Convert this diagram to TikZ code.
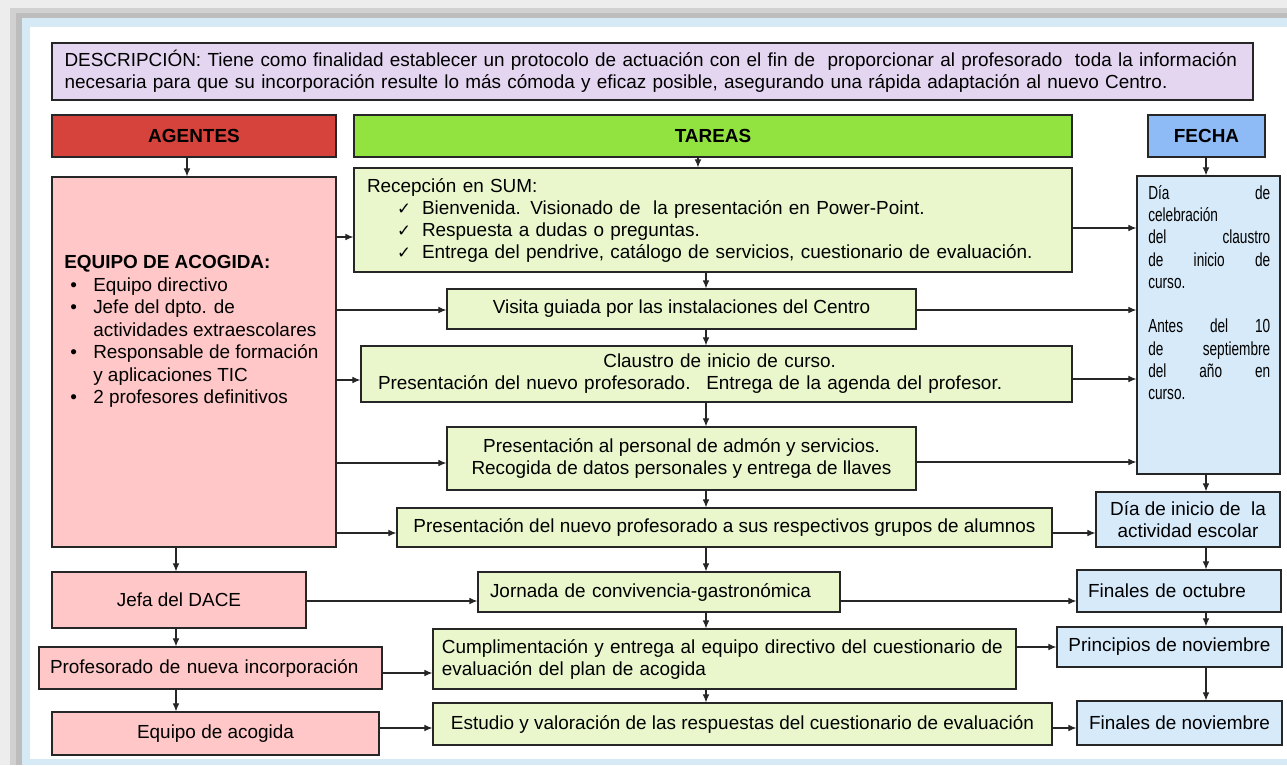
\documentclass[tikz,border=0pt]{standalone}
\usepackage{fontspec}
\setmainfont{Liberation Sans}
\newfontfamily\checkfont{DejaVu Sans}
\newfontfamily\narrowfont[FakeStretch=0.72]{Liberation Sans}
\usetikzlibrary{positioning,arrows.meta}

\definecolor{descfill}{RGB}{228,214,240}
\definecolor{agred}{RGB}{214,66,60}
\definecolor{targreen}{RGB}{146,226,64}
\definecolor{fechblue}{RGB}{142,187,245}
\definecolor{agpink}{RGB}{255,199,199}
\definecolor{tarlight}{RGB}{234,247,204}
\definecolor{fechlight}{RGB}{214,234,250}
\definecolor{framebl}{RGB}{214,234,245}

\newcommand{\ok}{\makebox[18.75pt][l]{\checkfont\fontsize{12.5}{16.5}\selectfont ✓}}
\newcommand{\dotitem}{\hspace*{4.5pt}\makebox[17.25pt][l]{•}}
\newcommand{\jline}[1]{\makebox[91.5pt][s]{#1}}

\tikzset{
  spans/.style args={#1/#2/#3/#4}{at={({(#1+#3)/2},{(#2+#4)/2})},
    minimum width={(#3-#1)*0.75pt}, minimum height={(#4-#2)*0.75pt}},
  box/.style={draw=black!85, line width=0.9pt, inner sep=0pt},
  agbox/.style={box, fill=agpink},
  tabox/.style={box, fill=tarlight},
  febox/.style={box, fill=fechlight},
  headbox/.style={box, font=\fontsize{14.2}{16.5}\selectfont\bfseries},
  arr/.style={-{Latex[length=6pt,width=5pt]}, line width=0.8pt, black!85}
}

\begin{document}
\begin{tikzpicture}[x=0.75pt, y=-0.75pt, font=\fontsize{14.2}{16.5}\selectfont]
  \useasboundingbox (0,0) rectangle (1287,765);
  % screen frame
  \fill[black!7] (0,0) rectangle (1287,765);
  \fill[black!18] (10,8) rectangle (1287,765);
  \fill[black!26] (16,13) rectangle (1287,765);
  \fill[framebl] (22,18) rectangle (1287,765);
  \fill[white] (30,27) rectangle (1287,759);

  \node[box, fill=descfill, spans=52/43/1253/100, text width=882pt, align=left] (desc)
    {DESCRIPCIÓN: Tiene como finalidad establecer un protocolo de actuación con el fin de~ proporcionar al profesorado~ toda la información\\
     necesaria para que su incorporación resulte lo más cómoda y eficaz posible, asegurando una rápida adaptación al nuevo Centro.};

  % column headers
  \node[headbox, fill=agred, spans=52/115/336/157] (agentes) {AGENTES};
  \node[headbox, fill=targreen, spans=354/115/1072/157] (tareas) {TAREAS};
  \node[headbox, fill=fechblue, spans=1148/115/1265/157] (fecha) {FECHA};

  % agentes
  \node[agbox, spans=52/177/336/547] (eq) {};
  \node[anchor=north west, inner sep=0pt, align=left, font=\fontsize{14.2}{16.9}\selectfont] (eqtxt) at (64,255)
    {{\bfseries EQUIPO DE ACOGIDA:}\\
     \dotitem Equipo directivo\\
     \dotitem Jefe del dpto. de\\
     \hspace*{21.75pt}actividades extraescolares\\
     \dotitem Responsable de formación\\
     \hspace*{21.75pt}y aplicaciones TIC\\
     \dotitem 2 profesores definitivos};
  \node[agbox, spans=52/572/306/628] (jef) {Jefa del DACE};
  \node[agbox, spans=39/647/382/689, text width=240.75pt, align=left] (pro) {Profesorado de nueva incorporación};
  \node[agbox, spans=52/712/379/755] (eqa) {Equipo de acogida};

  % tareas
  \node[tabox, spans=354/168/1072/272, text width=519pt, align=left] (rec)
    {Recepción en SUM:\\
     \hspace*{22.5pt}\ok Bienvenida. Visionado de~ la presentación en Power-Point.\\
     \hspace*{22.5pt}\ok Respuesta a dudas o preguntas.\\
     \hspace*{22.5pt}\ok Entrega del pendrive, catálogo de servicios, cuestionario de evaluación.};
  \node[tabox, spans=447/289/916/329] (vis) {Visita guiada por las instalaciones del Centro};
  \node[tabox, spans=361/346/1072/402, text width=507.75pt, align=left] (cla)
    {\hspace*{169pt}Claustro de inicio de curso.\\
     Presentación del nuevo profesorado.~ Entrega de la agenda del profesor.};
  \node[tabox, spans=447/427/916/490, align=center] (per)
    {Presentación al personal de admón y servicios.\\ Recogida de datos personales y entrega de llaves};
  \node[tabox, spans=397/508/1052/547] (nue) {Presentación del nuevo profesorado a sus respectivos grupos de alumnos};
  \node[tabox, spans=478/572/840/612, text width=253.5pt, align=left] (jor) {Jornada de convivencia-gastronómica};
  \node[tabox, spans=433/629/1016/689, text width=424pt, align=left] (cum)
    {Cumplimentación y entrega al equipo directivo del cuestionario de\\ evaluación del plan de acogida};
  \node[tabox, spans=433/703/1052/745] (est) {Estudio y valoración de las respuestas del cuestionario de evaluación};

  % fecha
  \node[febox, spans=1137/176/1280/474] (fbig) {};
  \node[anchor=north west, inner sep=0pt, align=left, font=\narrowfont\fontsize{14.2}{16.7}\selectfont] (fbigtxt) at (1148,185)
    {\jline{Día de}\\ celebración\\ \jline{del claustro}\\ \jline{de inicio de}\\ curso.\\[16.7pt]
     \jline{Antes del 10}\\ \jline{de septiembre}\\ \jline{del año en}\\ curso.};
  \node[febox, spans=1096/492/1280/547, align=center] (dia) {Día de inicio de~ la\\ actividad escolar};
  \node[febox, spans=1077/570/1281/612, text width=136.5pt, align=left] (oct) {Finales de octubre};
  \node[febox, spans=1057/627/1282/667] (pri) {Principios de noviembre};
  \node[febox, spans=1077/701/1282/745] (nov) {Finales de noviembre};

  % columns of vertical arrows
  \coordinate (ax) at (187,0);
  \coordinate (bx) at (176,0);
  \coordinate (tx) at (698,0);
  \coordinate (cx) at (706,0);
  \coordinate (fx) at (1206,0);
  \draw[arr] (agentes.south -| ax) -- (eq.north -| ax);
  \draw[arr] (tareas.south -| tx) -- (rec.north -| tx);
  \draw[arr] (fecha.south -| fx) -- (fbig.north -| fx);
  \foreach \a/\b in {rec/vis, vis/cla, cla/per, per/nue, nue/jor, jor/cum, cum/est}
    \draw[arr] (\a.south -| cx) -- (\b.north -| cx);
  \foreach \a/\b in {eq/jef, jef/pro, pro/eqa}
    \draw[arr] (\a.south -| bx) -- (\b.north -| bx);
  \foreach \a/\b in {fbig/dia, dia/oct, oct/pri, pri/nov}
    \draw[arr] (\a.south -| fx) -- (\b.north -| fx);

  % horizontal arrows
  \foreach \a/\b/\y in {eq/rec/237, eq/vis/310, eq/cla/380, eq/per/463, eq/nue/533,
                        jef/jor/601, pro/cum/673, eqa/est/728,
                        rec/fbig/228, vis/fbig/310, cla/fbig/379, per/fbig/462,
                        nue/dia/533, jor/oct/601, cum/pri/647, est/nov/728}
    \draw[arr] (\a.east |- 0,\y) -- (\b.west |- 0,\y);
\end{tikzpicture}
\end{document}
